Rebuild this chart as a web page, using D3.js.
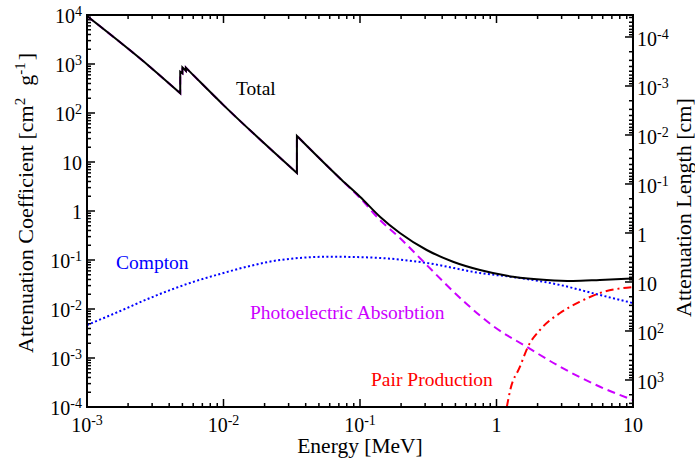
<!DOCTYPE html>
<html>
<head>
<meta charset="utf-8">
<script src="https://cdn.jsdelivr.net/npm/d3@7"></script>
<style>
  body { margin: 0; background: #fff; }
  svg text { font-family: "Liberation Serif", "Times New Roman", serif; }
</style>
</head>
<body>
<div id="chart"></div>
<script>
// ---- data (energy in MeV, coefficient in cm2/g) ----
// repeated energies mark the absorption edges (vertical jumps)
var totalEnergy = [0.001, 0.0029, 0.00482, 0.00482, 0.0050, 0.0050, 0.0053, 0.0053, 0.00569, 0.01, 0.0345, 0.0345,
                   0.0735, 0.1, 0.14, 0.196, 0.308, 0.48, 0.757, 1.32, 2.33, 3.63, 5.72, 10];
var totalCoef   = [9500, 870, 252, 697, 646, 857, 729, 840, 690, 145, 5.97, 34.0,
                   4.30, 1.96, 0.766, 0.356, 0.160, 0.0922, 0.0625, 0.0456, 0.0391, 0.0373, 0.0391, 0.0419];

var photoEnergy = [0.001, 0.0029, 0.00482, 0.00482, 0.0050, 0.0050, 0.0053, 0.0053, 0.00569, 0.01, 0.0345, 0.0345,
                   0.0735, 0.1, 0.14, 0.196, 0.308, 0.431, 0.605, 0.943, 1.66, 2.92, 5.73, 10];
var photoCoef   = [9500, 870, 252, 697, 646, 857, 729, 840, 690, 145, 5.97, 34.0,
                   4.25, 1.84, 0.655, 0.281, 0.0791, 0.0309, 0.01265, 0.0045, 0.0017, 0.000664, 0.000259, 0.000139];

var comptonEnergy = [0.001, 0.00175, 0.0029, 0.00569, 0.01, 0.0156, 0.0259, 0.0603, 0.14, 0.308, 0.757, 1.486, 2.92, 5.73, 10];
var comptonCoef   = [0.0047, 0.0091, 0.0168, 0.034, 0.0543, 0.0755, 0.100, 0.1167, 0.110, 0.0869, 0.0543, 0.0429, 0.0309, 0.0193, 0.0132];

var pairEnergy = [1.19, 1.26, 1.486, 1.70, 2.08, 2.92, 4.09, 5.73, 10];
var pairCoef   = [0.0001, 0.00022, 0.000664, 0.0017, 0.00373, 0.00828, 0.0141, 0.0212, 0.0281];

var density = 2.81; // g/cm3, links coefficient to attenuation length = 1/(mu*rho)

var labelNames = ["Total", "Compton", "Photoelectric Absorbtion", "Pair Production"];

// ---- layout ----
var width = 695, height = 460;
var margin = {top: 15, right: 62, bottom: 53, left: 87};
var plotW = width - margin.left - margin.right;
var plotH = height - margin.top - margin.bottom;

var svg = d3.select("#chart").append("svg")
    .attr("width", width)
    .attr("height", height);

var x = d3.scaleLog().domain([1e-3, 10]).range([margin.left, margin.left + plotW]);
var y = d3.scaleLog().domain([1e-4, 1e4]).range([margin.top + plotH, margin.top]);
var yR = d3.scaleLog().domain([1 / (1e4 * density), 1 / (1e-4 * density)]).range([margin.top, margin.top + plotH]);

var x0 = margin.left, x1 = margin.left + plotW, y0 = margin.top, y1 = margin.top + plotH;

svg.append("clipPath").attr("id", "plotclip")
  .append("rect").attr("x", x0).attr("y", y0).attr("width", plotW).attr("height", plotH);

function isMajor(v) {
    var l = Math.log10(v);
    return Math.abs(l - Math.round(l)) < 1e-6;
}

// ---- ticks (all pointing inwards) ----
var ticks = svg.append("g").attr("stroke", "#000").attr("stroke-width", 1.5);
var majLen = 8, minLen = 4;

x.ticks().forEach(function(v){
    var len = isMajor(v) ? majLen : minLen;
    ticks.append("line").attr("x1", x(v)).attr("x2", x(v)).attr("y1", y1).attr("y2", y1 - len);
    ticks.append("line").attr("x1", x(v)).attr("x2", x(v)).attr("y1", y0).attr("y2", y0 + len);
});
y.ticks().forEach(function(v){
    var len = isMajor(v) ? majLen : minLen;
    ticks.append("line").attr("x1", x0).attr("x2", x0 + len).attr("y1", y(v)).attr("y2", y(v));
});
yR.ticks().forEach(function(v){
    var len = isMajor(v) ? majLen : minLen;
    ticks.append("line").attr("x1", x1).attr("x2", x1 - len).attr("y1", yR(v)).attr("y2", yR(v));
});

// ---- tick labels ----
function powerLabel(sel, v) {
    var e = Math.round(Math.log10(v));
    if (e === 0) { sel.text("1"); return; }
    if (e === 1) { sel.text("10"); return; }
    sel.append("tspan").text("10");
    sel.append("tspan").attr("font-size", 14).attr("dy", -7).text(e);
}

x.ticks().filter(isMajor).forEach(function(v){
    var t = svg.append("text").attr("x", x(v)).attr("y", 432)
        .attr("text-anchor", "middle").attr("font-size", 20);
    powerLabel(t, v);
});
y.ticks().filter(isMajor).forEach(function(v){
    var t = svg.append("text").attr("x", x0 - 5).attr("y", y(v) + 8)
        .attr("text-anchor", "end").attr("font-size", 20);
    powerLabel(t, v);
});
yR.ticks().filter(isMajor).forEach(function(v){
    var t = svg.append("text").attr("x", x1 + 4).attr("y", yR(v) + 9)
        .attr("text-anchor", "start").attr("font-size", 20);
    powerLabel(t, v);
});

// ---- curves ----
function splitAtEdges(es, vs) {
    var segs = [], cur = [];
    es.forEach(function(e, i){
        if (i > 0 && e === es[i - 1]) { segs.push(cur); cur = []; }
        cur.push([e, vs[i]]);
    });
    segs.push(cur);
    return segs;
}

var line = d3.line()
    .x(function(d){ return x(d[0]); })
    .y(function(d){ return y(d[1]); })
    .curve(d3.curveMonotoneX);

function curvePath(es, vs) {
    return splitAtEdges(es, vs).map(function(s, i){
        var p = line(s);
        return i === 0 ? p : "L" + p.slice(1);
    }).join("");
}

var curves = svg.append("g").attr("clip-path", "url(#plotclip)").attr("fill", "none");

curves.append("path").attr("d", curvePath(comptonEnergy, comptonCoef))
    .attr("stroke", "#0000ff").attr("stroke-width", 2).attr("stroke-dasharray", "2,2.4");
curves.append("path").attr("d", curvePath(photoEnergy, photoCoef))
    .attr("stroke", "#cc00ff").attr("stroke-width", 2).attr("stroke-dasharray", "8,5");
curves.append("path").attr("d", curvePath(pairEnergy, pairCoef))
    .attr("stroke", "#ff0000").attr("stroke-width", 2).attr("stroke-dasharray", "8,4,2,4");
curves.append("path").attr("d", curvePath(totalEnergy, totalCoef))
    .attr("stroke", "#000").attr("stroke-width", 2).attr("stroke-linejoin", "miter");

// ---- frame ----
svg.append("rect").attr("x", x0).attr("y", y0).attr("width", plotW).attr("height", plotH)
    .attr("fill", "none").attr("stroke", "#000").attr("stroke-width", 2);

// ---- curve labels ----
svg.append("text").attr("x", 236).attr("y", 95).attr("font-size", 19.5).attr("fill", "#000").text(labelNames[0]);
svg.append("text").attr("x", 116).attr("y", 269).attr("font-size", 19.5).attr("fill", "#0000ff").text(labelNames[1]);
svg.append("text").attr("x", 250).attr("y", 319).attr("font-size", 19.5).attr("fill", "#cc00ff").text(labelNames[2]);
svg.append("text").attr("x", 371).attr("y", 386).attr("font-size", 19.5).attr("fill", "#ff0000").text(labelNames[3]);

// ---- axis titles ----
svg.append("text").attr("x", (x0 + x1) / 2).attr("y", 453)
    .attr("text-anchor", "middle").attr("font-size", 21.5).text("Energy [MeV]");

var lt = svg.append("text").attr("transform", "translate(33,353) rotate(-90)")
    .attr("font-size", 22).attr("text-anchor", "start");
lt.append("tspan").text("Attenuation Coefficient [cm");
lt.append("tspan").attr("font-size", 15).attr("dy", -8).text("2");
lt.append("tspan").attr("dy", 8).attr("dx", 12).text("g");
lt.append("tspan").attr("font-size", 15).attr("dy", -8).text("-1");
lt.append("tspan").attr("dy", 8).attr("dx", 2).text("]");

svg.append("text").attr("transform", "translate(691,317) rotate(-90)")
    .attr("font-size", 22).attr("text-anchor", "start").text("Attenuation Length [cm]");
</script>
</body>
</html>
